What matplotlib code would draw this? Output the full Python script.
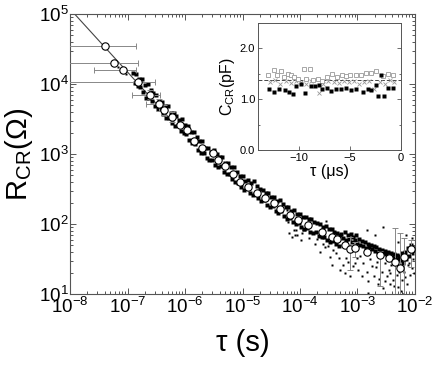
import matplotlib
matplotlib.use("Agg")
import numpy as np
import matplotlib.pyplot as plt
from matplotlib.ticker import LogLocator, NullFormatter, MultipleLocator

plt.rcParams['font.family'] = ['Liberation Sans', 'DejaVu Sans']
plt.rcParams['mathtext.fontset'] = 'custom'
plt.rcParams['mathtext.rm'] = 'Liberation Sans'
plt.rcParams['mathtext.it'] = 'Liberation Sans:italic'
plt.rcParams['mathtext.default'] = 'regular'

# ---- main panel data (log10 values) ----
# averaged points (open circles)
circ_logtau = [-7.40, -7.23, -7.08, -6.81, -6.61, -6.46, -6.36, -6.23, -6.09, -5.97,
               -5.84, -5.70, -5.51, -5.43, -5.30, -5.16, -5.04, -4.90, -4.75, -4.61,
               -4.46, -4.35, -4.17, -4.03, -3.86, -3.62, -3.45, -3.36, -3.22, -3.13,
               -3.04, -2.84, -2.61, -2.46, -2.35, -2.26, -2.19, -2.07]
circ_logr = [4.54, 4.30, 4.20, 4.03, 3.85, 3.71, 3.63, 3.53, 3.41, 3.35,
             3.19, 3.08, 3.01, 2.91, 2.83, 2.72, 2.60, 2.53, 2.45, 2.37,
             2.30, 2.22, 2.13, 2.06, 1.99, 1.88, 1.82, 1.78, 1.70, 1.64,
             1.66, 1.60, 1.56, 1.51, 1.46, 1.37, 1.53, 1.65]

# horizontal error bars (first points)
hbar_logtau = [-7.40, -7.23, -7.08, -6.81, -6.61, -6.46]
hbar_logr = [4.54, 4.30, 4.20, 4.03, 3.85, 3.71]
hbar_lo = [-8.2, -8.2, -7.58, -8.2, -6.93, -6.67]
hbar_hi = [-6.86, -6.82, -6.86, -6.53, -6.43, -6.43]

# vertical error bars
vbar_logtau = [-6.61, -6.46, -6.36, -6.23, -3.13, -3.04, -2.61, -2.35, -2.26, -2.19, -2.07]
vbar_logr = [3.85, 3.71, 3.63, 3.53, 1.64, 1.66, 1.56, 1.46, 1.37, 1.53, 1.65]
vbar_lo = [3.79, 3.62, 3.56, 3.46, 1.34, 1.53, 1.12, 0.8, 0.8, 0.8, 1.39]
vbar_hi = [3.91, 3.78, 3.70, 3.60, 1.82, 1.75, 1.62, 1.95, 1.87, 1.80, 1.77]

# guide line at short times
line_logtau = [-7.92, -6.2]
line_logr = [5.0, 3.45]

# raw points, dense band above the circles
up_logtau = [-6.90, -6.85, -6.80, -6.75, -6.70, -6.65, -6.60, -6.55, -6.50, -6.45,
             -6.40, -6.35, -6.30, -6.25, -6.20, -6.15, -6.10, -6.05, -6.00, -5.95,
             -5.90, -5.85, -5.80, -5.75, -5.70, -5.65, -5.60, -5.55, -5.50, -5.45,
             -5.40, -5.35, -5.30, -5.25, -5.20, -5.15, -5.10, -5.05, -5.00, -4.95,
             -4.90, -4.85, -4.80, -4.75, -4.70, -4.65, -4.60, -4.55, -4.50, -4.45,
             -4.40, -4.35, -4.30, -4.25, -4.20, -4.15, -4.10, -4.05, -4.00, -3.95,
             -3.90, -3.85, -3.80, -3.75, -3.70, -3.65, -3.60, -3.55, -3.50, -3.45,
             -3.40, -3.35, -3.30]
up_logr = [4.155, 4.15, 4.07, 4.065, 3.99, 3.995, 3.92, 3.865, 3.85, 3.755,
           3.75, 3.69, 3.685, 3.59, 3.59, 3.545, 3.49, 3.495, 3.41, 3.40,
           3.32, 3.32, 3.24, 3.19, 3.18, 3.09, 3.09, 3.03, 3.055, 3.00,
           2.96, 2.955, 2.87, 2.875, 2.81, 2.82, 2.745, 2.69, 2.68, 2.61,
           2.63, 2.58, 2.61, 2.55, 2.505, 2.49, 2.45, 2.44, 2.385, 2.39,
           2.33, 2.34, 2.29, 2.25, 2.24, 2.19, 2.205, 2.15, 2.15, 2.10,
           2.105, 2.07, 2.07, 2.03, 2.01, 2.00, 1.96, 1.97, 1.93, 1.93,
           1.89, 1.87, 1.85]

# raw points, dense band below the circles
low_logtau = [-6.875, -6.825, -6.775, -6.725, -6.675, -6.625, -6.575, -6.525, -6.475, -6.425,
              -6.375, -6.325, -6.275, -6.225, -6.175, -6.125, -6.075, -6.025, -5.975, -5.925,
              -5.875, -5.825, -5.775, -5.725, -5.675, -5.625, -5.575, -5.525, -5.475, -5.425,
              -5.375, -5.325, -5.275, -5.225, -5.175, -5.125, -5.075, -5.025, -4.975, -4.925,
              -4.875, -4.825, -4.775, -4.725, -4.675, -4.625, -4.575, -4.525, -4.475, -4.425,
              -4.375, -4.325, -4.275, -4.225, -4.175, -4.125, -4.075, -4.025, -3.975, -3.925,
              -3.875, -3.825, -3.775, -3.725, -3.675, -3.625, -3.575, -3.525, -3.475, -3.425,
              -3.375, -3.325]
low_logr = [4.01, 3.97, 3.96, 3.88, 3.80, 3.80, 3.76, 3.68, 3.65, 3.64,
            3.57, 3.51, 3.51, 3.44, 3.40, 3.41, 3.33, 3.30, 3.29, 3.20,
            3.16, 3.15, 3.06, 3.02, 3.02, 2.95, 2.91, 2.92, 2.85, 2.82,
            2.83, 2.75, 2.72, 2.72, 2.65, 2.60, 2.59, 2.53, 2.49, 2.51,
            2.44, 2.42, 2.43, 2.37, 2.33, 2.34, 2.27, 2.24, 2.26, 2.19,
            2.16, 2.18, 2.11, 2.07, 2.09, 2.03, 2.00, 2.02, 1.96, 1.93,
            1.95, 1.89, 1.87, 1.88, 1.83, 1.81, 1.82, 1.77, 1.75, 1.76,
            1.71, 1.69]

# raw points, band at long times
tail_logtau = [-3.28, -3.25, -3.22, -3.20, -3.17, -3.15, -3.12, -3.10, -3.07, -3.05,
               -3.02, -3.00, -2.97, -2.95, -2.92, -2.90, -2.87, -2.85, -2.82, -2.80,
               -2.77, -2.75, -2.72, -2.70, -2.67, -2.65, -2.62, -2.60, -2.57, -2.55,
               -2.52, -2.50, -2.47, -2.45, -2.42, -2.40, -2.37, -2.35, -2.32, -2.30,
               -2.27, -2.25, -2.22, -2.20, -2.17, -2.15, -2.12, -2.10, -2.07, -2.05,
               -2.03]
tail_logr = [1.86, 1.80, 1.88, 1.77, 1.84, 1.79, 1.86, 1.75, 1.82, 1.77,
             1.84, 1.73, 1.79, 1.70, 1.76, 1.68, 1.74, 1.66, 1.72, 1.67,
             1.70, 1.64, 1.69, 1.62, 1.67, 1.60, 1.65, 1.61, 1.63, 1.58,
             1.62, 1.57, 1.60, 1.55, 1.58, 1.53, 1.57, 1.52, 1.56, 1.50,
             1.55, 1.48, 1.58, 1.45, 1.60, 1.50, 1.66, 1.55, 1.70, 1.58,
             1.66]

# scattered raw points
spread_logtau = [-7.16, -7.02, -4.23, -4.20, -4.19, -4.14, -4.11, -4.08, -4.07, -4.05,
                 -3.99, -3.97, -3.94, -3.91, -3.85, -3.74, -3.70, -3.65, -3.60, -3.57,
                 -3.55, -3.52, -3.48, -3.45, -3.42, -3.38, -3.33, -3.30, -3.25, -3.22,
                 -3.20, -3.16, -3.13, -3.07, -3.05, -3.01, -2.99, -2.95, -2.93, -2.90,
                 -2.84, -2.84, -2.81, -2.81, -2.78, -2.75, -2.72, -2.70, -2.68, -2.66,
                 -2.64, -2.62, -2.58, -2.58, -2.55, -2.55, -2.52, -2.52, -2.49, -2.46,
                 -2.44, -2.43, -2.41, -2.38, -2.36, -2.33, -2.32, -2.30, -2.29, -2.28,
                 -2.26, -2.24, -2.23, -2.20, -2.19, -2.17, -2.15, -2.14, -2.12, -2.10,
                 -2.09, -2.06, -2.05, -2.04, -2.02]
spread_logr = [4.25, 4.14, 2.20, 2.03, 1.87, 1.82, 1.91, 1.84, 1.91, 1.84,
               1.77, 1.87, 1.91, 1.91, 1.80, 1.72, 1.78, 1.60, 1.72, 1.67,
               2.05, 1.68, 1.53, 1.41, 1.63, 1.58, 1.51, 1.34, 1.41, 1.30,
               1.52, 1.46, 1.26, 1.40, 1.45, 1.51, 1.34, 1.55, 1.26, 1.44,
               1.32, 1.91, 1.18, 1.01, 1.50, 1.40, 1.26, 1.85, 1.38, 1.46,
               1.15, 1.22, 1.32, 0.96, 1.08, 1.96, 1.44, 1.18, 1.26, 1.34,
               1.30, 1.15, 1.41, 1.20, 1.12, 0.95, 1.27, 1.75, 1.10, 1.32,
               1.40, 1.05, 1.20, 1.00, 1.32, 1.25, 1.85, 1.15, 1.41, 1.45,
               1.27, 1.37, 1.80, 1.50, 1.30]

# ---- inset data: C_CR (pF) vs tau (us) ----
filled_tau = [-12.91, -12.42, -11.93, -11.34, -11.01, -10.56, -10.29, -9.81, -9.38, -8.83,
              -8.40, -8.01, -7.69, -7.20, -6.87, -6.38, -5.89, -5.40, -4.90, -4.41,
              -3.76, -3.27, -2.94, -2.45, -2.28, -1.96, -1.69, -1.30, -0.81]
filled_c = [1.21, 1.15, 1.21, 1.18, 1.15, 1.11, 1.25, 1.30, 1.13, 1.25,
            1.25, 1.27, 1.21, 1.23, 1.17, 1.21, 1.21, 1.23, 1.19, 1.21,
            1.15, 1.21, 1.19, 1.28, 1.07, 1.47, 1.07, 1.23, 1.23]
open_tau = [-12.98, -12.42, -12.09, -11.76, -11.44, -11.11, -10.78, -10.46, -10.13, -9.48,
            -9.31, -8.92, -8.66, -8.17, -7.69, -7.20, -6.71, -6.22, -5.79, -5.40,
            -5.01, -4.41, -3.92, -3.43, -2.94, -2.45, -1.80, -1.30, -0.81]
open_c = [1.48, 1.58, 1.48, 1.55, 1.43, 1.50, 1.48, 1.43, 1.39, 1.59,
          1.39, 1.59, 1.37, 1.39, 1.35, 1.43, 1.50, 1.43, 1.47, 1.45,
          1.47, 1.47, 1.48, 1.52, 1.52, 1.55, 1.45, 1.50, 1.48]
cross_tau = [-12.80, -12.30, -11.80, -11.30, -10.80, -10.30, -9.80, -9.30, -8.80, -8.04,
             -7.60, -7.10, -6.60, -6.10, -5.60, -5.10, -4.60, -4.10, -3.60, -3.10,
             -2.60, -2.10, -1.60, -1.10, -0.70]
cross_c = [1.33, 1.38, 1.30, 1.35, 1.32, 1.36, 1.34, 1.30, 1.36, 1.13,
           1.30, 1.35, 1.33, 1.31, 1.36, 1.33, 1.35, 1.30, 1.34, 1.36,
           1.20, 1.33, 1.30, 1.38, 1.33]
c_mean = 1.37

x_decades = [1e-8, 1e-7, 1e-6, 1e-5, 1e-4, 1e-3, 1e-2]
y_decades = [1e1, 1e2, 1e3, 1e4, 1e5]

fig = plt.figure(figsize=(4.36, 3.66), dpi=100)
ax = fig.add_axes([0.1606, 0.1967, 0.7912, 0.765])

p = lambda v: np.power(10.0, np.asarray(v))

ax.plot(p(line_logtau), p(line_logr), color='#444444', lw=0.8, zorder=1)
ax.plot(p(spread_logtau), p(spread_logr), 's', ms=1.7, color='k', mec='none', zorder=2)
ax.plot(p(up_logtau + low_logtau + tail_logtau), p(up_logr + low_logr + tail_logr),
        's', ms=2.9, color='k', mec='none', zorder=2)

hx = p(hbar_logtau)
ax.errorbar(hx, p(hbar_logr), xerr=[hx - p(hbar_lo), p(hbar_hi) - hx], fmt='none',
            ecolor='#888888', elinewidth=0.7, capsize=2, capthick=0.7, zorder=3)
vy = p(vbar_logr)
ax.errorbar(p(vbar_logtau), vy, yerr=[vy - p(vbar_lo), p(vbar_hi) - vy], fmt='none',
            ecolor='#888888', elinewidth=0.7, capsize=2, capthick=0.7, zorder=3)
ax.plot(p(circ_logtau), p(circ_logr), 'o', ms=5.3, mfc='white', mec='black', mew=0.8, zorder=4)

ax.set_xscale('log')
ax.set_yscale('log')
ax.set_xlim(1e-8, 1e-2)
ax.set_ylim(1e1, 1e5)
ax.set_xticks(x_decades)
ax.set_yticks(y_decades)
ax.xaxis.set_minor_locator(LogLocator(base=10, subs=np.arange(2, 10), numticks=20))
ax.yaxis.set_minor_locator(LogLocator(base=10, subs=np.arange(2, 10), numticks=20))
ax.xaxis.set_minor_formatter(NullFormatter())
ax.yaxis.set_minor_formatter(NullFormatter())
ax.tick_params(which='both', direction='in', top=True, right=True, color='#555555', width=0.7)
ax.tick_params(which='major', length=4, labelsize=13.5, pad=2)
ax.tick_params(which='minor', length=2)
ax.tick_params(axis='y', which='major', pad=1)
for s in ax.spines.values():
    s.set_color('#555555')
    s.set_linewidth(0.8)

ax.set_xlabel('τ (s)', fontsize=21, labelpad=9)
ax.set_ylabel(r'R$_{\mathrm{CR}}$(Ω)', fontsize=21, labelpad=3)

# inset
ins = fig.add_axes([0.5917, 0.5902, 0.328, 0.347])
ins.axhline(c_mean, color='#444444', lw=0.7, ls=(0, (4, 2)), zorder=1)
ins.plot(cross_tau, cross_c, 'x', ms=3, mew=0.6, color='#999999', zorder=2)
ins.plot(open_tau, open_c, 's', ms=3, mfc='white', mec='#999999', mew=0.6, zorder=3)
ins.plot(filled_tau, filled_c, 's', ms=3.2, color='black', mec='none', zorder=4)
ins.set_xlim(-14, 0)
ins.set_ylim(0, 2.5)
ins.set_xticks([-10, -5, 0])
ins.set_yticks([0, 1, 2])
ins.set_yticklabels(['0.0', '1.0', '2.0'])
ins.yaxis.set_minor_locator(MultipleLocator(0.5))
ins.tick_params(which='both', direction='in', right=True, color='#555555', width=0.6)
ins.tick_params(which='major', length=3, labelsize=8, pad=2)
ins.tick_params(which='minor', length=1.5)
for s in ins.spines.values():
    s.set_color('#555555')
    s.set_linewidth(0.7)
ins.set_xlabel('τ (μs)', fontsize=11.5, labelpad=1)
ins.set_ylabel(r'C$_{\mathrm{CR}}$(pF)', fontsize=11.5, labelpad=2)

fig.savefig('out.png', dpi=100)
